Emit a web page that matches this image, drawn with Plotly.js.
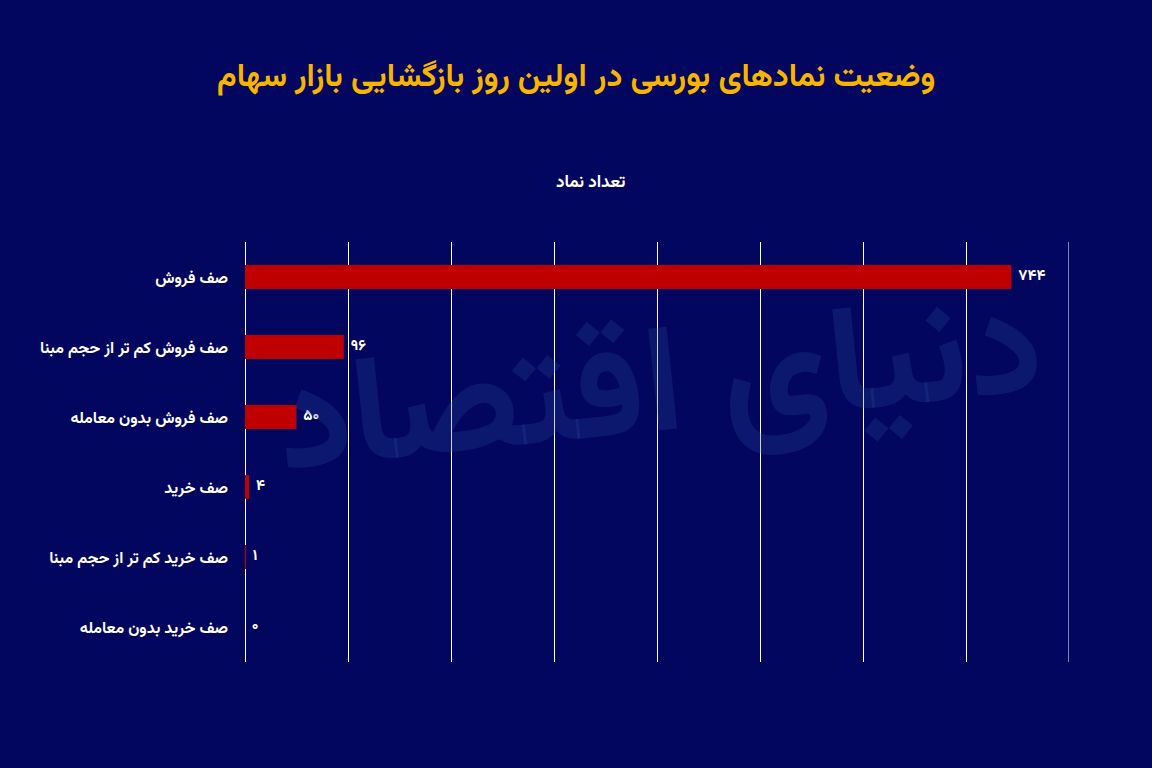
<!DOCTYPE html>
<html>
<head>
<meta charset="utf-8">
<script src="https://cdn.plot.ly/plotly-3.0.1.min.js"></script>
<style>
html,body{margin:0;padding:0;background:#03065e;}
#chart{width:1152px;height:768px;}
</style>
</head>
<body>
<div id="chart"></div>
<script>
const categories = [
  "صف فروش",
  "صف فروش کم تر از حجم مبنا",
  "صف فروش بدون معامله",
  "صف خرید",
  "صف خرید کم تر از حجم مبنا",
  "صف خرید بدون معامله"
];
const counts = [744, 96, 50, 4, 1, 0];
const countLabels = ["۷۴۴", "۹۶", "۵۰", "۴", "۱", "۰"];
const chartTitle = "وضعیت نمادهای بورسی در اولین روز بازگشایی بازار سهام";
const axisTitle = "تعداد نماد";
const watermark = "دنیای اقتصاد";

const FONT = "Vazirmatn, 'DejaVu Sans', sans-serif";
const L = 245, R = 83, W = 1152;
const plotW = W - L - R;
const figX = px => (px - L) / plotW;

const trace = {
  type: "bar",
  orientation: "h",
  y: categories,
  x: counts,
  text: countLabels.map(s => "\u00a0" + s),
  textposition: "outside",
  cliponaxis: false,
  textfont: {color: "#ffffff", size: 16, family: FONT, weight: "bold"},
  marker: {color: "#c00000", line: {width: 0}},
  width: 0.34,
  hoverinfo: "none"
};

const layout = {
  width: 1152, height: 768,
  paper_bgcolor: "#03065e",
  plot_bgcolor: "#03065e",
  margin: {l: L, r: R, t: 242, b: 106},
  showlegend: false,
  font: {family: FONT, color: "#ffffff"},
  xaxis: {
    range: [0, 800], dtick: 100, showticklabels: false,
    showgrid: true, gridcolor: "#ffffff", gridwidth: 1,
    zeroline: true, zerolinecolor: "#ffffff", zerolinewidth: 1,
    showline: false, fixedrange: true
  },
  yaxis: {
    autorange: "reversed", showgrid: false, zeroline: false, showline: false,
    ticks: "", ticklabelstandoff: 16,
    tickfont: {size: 16, color: "#ffffff", family: FONT, weight: "bold"}
  },
  shapes: [
    {type: "line", xref: "x", yref: "paper", x0: 800, x1: 800, y0: 0, y1: 1,
     line: {color: "#ffffff", width: 1}}
  ],
  annotations: [
    {text: watermark, xref: "paper", yref: "paper", x: figX(660), y: 0.64,
     showarrow: false, textangle: -6,
     font: {size: 150, color: "rgba(40,75,160,0.25)", family: FONT, weight: "bold"}},
    {text: chartTitle, xref: "paper", yref: "paper", x: figX(576), xanchor: "center",
     y: 1, yanchor: "middle", yshift: 164, showarrow: false,
     font: {size: 32, color: "#f7b500", family: FONT, weight: "bold"}},
    {text: axisTitle, xref: "paper", yref: "paper", x: figX(590), xanchor: "center",
     y: 1, yanchor: "middle", yshift: 59, showarrow: false,
     font: {size: 17, color: "#ffffff", family: FONT, weight: "bold"}}
  ]
};

Plotly.newPlot("chart", [trace], layout, {displayModeBar: false, staticPlot: true});
</script>
</body>
</html>
